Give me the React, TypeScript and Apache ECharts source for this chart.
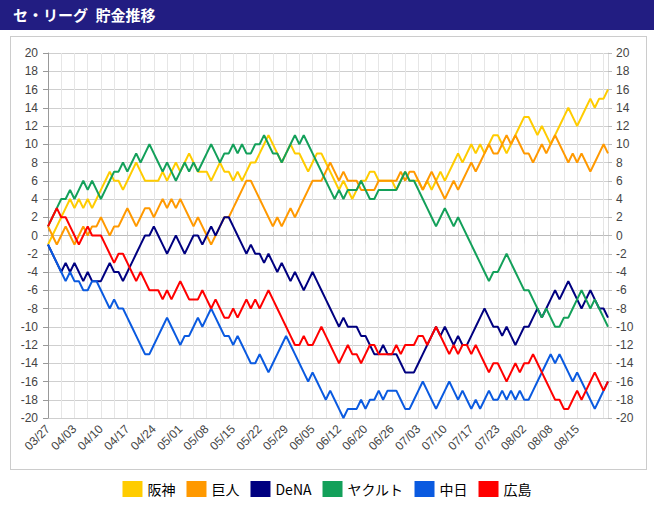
import { useEffect, useRef } from "react";
import * as echarts from "echarts";

// game dates (x categories)
const dates = [
  "03/27", "03/28", "03/29", "03/31", "04/01", "04/02",
  "04/03", "04/04", "04/05", "04/07", "04/08", "04/09",
  "04/10", "04/11", "04/12", "04/14", "04/15", "04/16",
  "04/17", "04/18", "04/19", "04/21", "04/22", "04/23",
  "04/24", "04/25", "04/26", "04/28", "04/29", "04/30",
  "05/01", "05/02", "05/03", "05/05", "05/06", "05/07",
  "05/08", "05/09", "05/10", "05/12", "05/13", "05/14",
  "05/15", "05/16", "05/17", "05/19", "05/20", "05/21",
  "05/22", "05/23", "05/24", "05/26", "05/27", "05/28",
  "05/29", "05/30", "05/31", "06/02", "06/03", "06/04",
  "06/05", "06/06", "06/07", "06/09", "06/10", "06/11",
  "06/12", "06/13", "06/14", "06/16", "06/17", "06/19",
  "06/20", "06/21", "06/22", "06/23", "06/24", "06/25",
  "06/26", "06/27", "06/28", "06/30", "07/01", "07/02",
  "07/03", "07/04", "07/05", "07/07", "07/08", "07/09",
  "07/10", "07/11", "07/12", "07/14", "07/15", "07/16",
  "07/17", "07/18", "07/19", "07/20", "07/21", "07/22",
  "07/23", "07/24", "07/28", "07/29", "07/30", "08/01",
  "08/02", "08/03", "08/04", "08/05", "08/06", "08/07",
  "08/08", "08/09", "08/11", "08/12", "08/13", "08/14",
  "08/15", "08/16", "08/18", "08/19", "08/20", "08/21", "08/22", "08/23",
];

// 貯金 per team
const hanshin = [
  -1, 0, 1, 2, 3, 4, 3, 4, 3, 4,
  3, 4, 5, 6, 7, 6, 6, 5, 6, 7,
  8, 7, 6, 6, 6, 6, 7, 6, 7, 8,
  7, 8, 9, 8, 7, 7, 7, 6, 7, 8,
  7, 7, 6, 7, 6, 7, 8, 8, 9, 10,
  11, 10, 9, 8, 9, 10, 9, 9, 8, 7,
  8, 9, 9, 8, 7, 6, 5, 6, 5, 4,
  5, 6, 6, 7, 7, 6, 6, 6, 6, 5,
  6, 7, 6, 6, 6, 5, 6, 5, 6, 7,
  6, 7, 8, 9, 8, 9, 10, 9, 10, 9,
  10, 11, 11, 10, 9, 10, 11, 12, 13, 13,
  12, 11, 12, 11, 10, 11, 12, 13, 14, 13,
  12, 13, 14, 15, 14, 15, 15, 16,
];
const giants = [
  1, 0, -1, 0, 1, 0, -1, 0, 1, 0,
  1, 1, 2, 1, 0, 1, 1, 2, 3, 2,
  1, 2, 3, 3, 2, 3, 4, 3, 4, 3,
  4, 3, 2, 1, 2, 1, 0, -1, 0, 1,
  2, 2, 3, 4, 5, 6, 6, 5, 4, 3,
  2, 1, 2, 1, 2, 3, 2, 3, 4, 5,
  6, 6, 6, 7, 8, 7, 6, 7, 6, 6,
  6, 5, 5, 5, 5, 6, 6, 6, 6, 6,
  7, 6, 7, 7, 6, 5, 6, 7, 6, 5,
  4, 5, 6, 5, 6, 7, 8, 7, 8, 9,
  10, 9, 9, 10, 11, 10, 11, 10, 9, 9,
  8, 9, 10, 9, 10, 11, 10, 9, 8, 9,
  8, 9, 8, 7, 8, 9, 10, 9,
];
const dena = [
  -1, -2, -3, -4, -3, -4, -3, -4, -5, -4,
  -5, -5, -5, -4, -3, -4, -4, -5, -4, -3,
  -2, -1, 0, 0, 1, 0, -1, -2, -1, 0,
  -1, -2, -1, 0, 0, -1, 0, 1, 0, 1,
  2, 2, 1, 0, -1, -2, -1, -2, -2, -3,
  -2, -3, -4, -3, -4, -5, -4, -5, -6, -5,
  -4, -5, -6, -7, -8, -9, -10, -9, -10, -10,
  -10, -11, -11, -12, -13, -13, -12, -13, -13, -13,
  -14, -15, -15, -15, -14, -13, -12, -11, -10, -11,
  -10, -11, -12, -11, -12, -12, -11, -10, -9, -8,
  -9, -10, -10, -11, -10, -11, -12, -11, -10, -10,
  -9, -8, -9, -8, -7, -6, -7, -6, -5, -6,
  -7, -8, -7, -6, -7, -8, -8, -9,
];
const yakult = [
  1, 2, 3, 4, 4, 5, 4, 5, 6, 5,
  6, 5, 4, 5, 6, 7, 7, 8, 7, 8,
  9, 8, 9, 10, 9, 8, 7, 8, 7, 6,
  7, 8, 7, 8, 7, 8, 9, 10, 9, 8,
  9, 9, 10, 9, 10, 9, 9, 10, 10, 11,
  10, 9, 9, 8, 9, 10, 11, 10, 11, 10,
  9, 8, 7, 6, 5, 4, 5, 4, 5, 5,
  5, 6, 5, 4, 4, 5, 5, 5, 5, 5,
  6, 7, 6, 6, 5, 4, 3, 2, 1, 2,
  3, 2, 1, 2, 1, 0, -1, -2, -3, -4,
  -5, -4, -4, -3, -2, -3, -4, -5, -6, -6,
  -7, -8, -9, -8, -9, -10, -10, -9, -9, -8,
  -7, -6, -7, -8, -7, -8, -9, -10,
];
const chunichi = [
  -1, -2, -3, -4, -5, -4, -5, -5, -6, -6,
  -5, -5, -6, -7, -8, -7, -8, -8, -9, -10,
  -11, -12, -13, -13, -12, -11, -10, -9, -10, -11,
  -12, -11, -11, -10, -9, -10, -9, -8, -9, -10,
  -11, -11, -12, -11, -12, -13, -14, -14, -13, -14,
  -15, -14, -13, -12, -11, -12, -13, -14, -15, -16,
  -15, -16, -17, -18, -17, -18, -19, -20, -19, -19,
  -19, -18, -19, -18, -18, -17, -18, -17, -17, -17,
  -18, -19, -19, -18, -17, -16, -17, -18, -19, -18,
  -17, -16, -17, -18, -17, -18, -19, -18, -19, -18,
  -17, -18, -18, -17, -18, -17, -18, -17, -18, -18,
  -17, -16, -15, -14, -13, -14, -13, -14, -15, -16,
  -15, -16, -17, -18, -19, -18, -17, -16,
];
const hiroshima = [
  1, 2, 3, 2, 2, 1, 0, -1, 0, 1,
  0, 0, 0, -1, -2, -3, -2, -2, -3, -4,
  -5, -4, -5, -6, -6, -6, -7, -6, -7, -6,
  -5, -6, -7, -7, -7, -6, -7, -8, -7, -8,
  -9, -9, -8, -9, -8, -7, -8, -7, -8, -7,
  -6, -7, -8, -9, -10, -11, -12, -12, -11, -12,
  -12, -11, -10, -11, -12, -13, -14, -13, -12, -13,
  -13, -14, -13, -12, -12, -13, -13, -13, -13, -12,
  -13, -12, -12, -12, -11, -11, -12, -11, -10, -11,
  -12, -13, -12, -13, -12, -12, -13, -12, -13, -14,
  -15, -14, -14, -15, -16, -15, -14, -15, -14, -14,
  -13, -14, -15, -16, -17, -18, -18, -19, -19, -18,
  -17, -18, -17, -16, -15, -16, -17, -16,
];

const teams = ["阪神", "巨人", "DeNA", "ヤクルト", "中日", "広島"];
const teamColors = ["#ffcc00", "#ff9900", "#000080", "#13a05a", "#0a5ae0", "#ff0000"];

const labelFont = "'Liberation Sans', Arial, sans-serif";
const jpFont = "'Noto Sans CJK JP', 'Noto Sans', sans-serif";

const App = () => {
  const chartRef = useRef<HTMLDivElement>(null);

  useEffect(() => {
    if (!chartRef.current) return;
    const chart = echarts.init(chartRef.current, null, { renderer: "svg" });

    const values = [hanshin, giants, dena, yakult, chunichi, hiroshima];
    const every3 = (i: number) => i % 3 === 0;
    // 21 horizontal lines, the 0 line is darker
    const hLineColors = Array.from({ length: 21 }, (_, k) => (k === 10 ? "#999999" : "#cfcfcf"));

    const option: echarts.EChartsOption = {
      animation: false,
      textStyle: { fontFamily: labelFont },
      grid: { left: 48, right: 46, top: 23, bottom: 99, containLabel: false },
      legend: {
        data: teams,
        left: "center",
        top: 446,
        icon: "rect",
        itemWidth: 20,
        itemHeight: 16,
        itemGap: 11,
        textStyle: { fontFamily: jpFont, fontSize: 14, color: "#000" },
      },
      xAxis: [
        {
          type: "category",
          data: dates,
          boundaryGap: false,
          axisLine: { lineStyle: { color: "#bbbbbb" } },
          axisTick: { interval: every3, length: 8, lineStyle: { color: "#dddddd" } },
          axisLabel: {
            interval: (i: number) => i % 6 === 0 && i <= 120,
            rotate: 45,
            margin: 9,
            fontSize: 12,
            color: "#444",
          },
          splitLine: { show: true, interval: every3, lineStyle: { color: "#e6e6e6" } },
        },
        {
          type: "category",
          data: dates,
          position: "top",
          boundaryGap: false,
          axisLine: { show: false },
          axisTick: { interval: every3, length: 4, lineStyle: { color: "#cccccc" } },
          axisLabel: { show: false },
        },
      ],
      yAxis: [
        {
          type: "value",
          min: -20,
          max: 20,
          interval: 2,
          axisLine: { show: true, lineStyle: { color: "#999999" } },
          axisTick: { show: true, length: 5, lineStyle: { color: "#999999" } },
          axisLabel: { fontSize: 12, color: "#444", margin: 10 },
          splitLine: { lineStyle: { color: hLineColors } },
        },
        {
          type: "value",
          min: -20,
          max: 20,
          interval: 2,
          position: "right",
          axisLine: { show: true, lineStyle: { color: "#dddddd" } },
          axisTick: { show: true, length: 4, lineStyle: { color: "#bbbbbb" } },
          axisLabel: { fontSize: 12, color: "#444", margin: 8 },
          splitLine: { show: false },
        },
      ],
      series: teams.map((name, k) => ({
        name,
        type: "line",
        data: values[k],
        showSymbol: false,
        symbol: "none",
        color: teamColors[k],
        lineStyle: { width: 2, color: teamColors[k] },
      })),
    };

    chart.setOption(option);

    return () => {
      chart.dispose();
    };
  }, []);

  return (
    <div
      style={{
        position: "fixed",
        left: 0,
        top: 0,
        width: 654,
        height: 517,
        background: "#ffffff",
        overflow: "hidden",
      }}
    >
      <div
        style={{
          height: 30,
          background: "#221d82",
          color: "#ffffff",
          fontFamily: jpFont,
          fontWeight: "bold",
          fontSize: 15,
          lineHeight: "30px",
          paddingLeft: 13,
          boxSizing: "border-box",
        }}
      >
        セ・リーグ{"\u2002"}貯金推移
      </div>
      {/* chart frame */}
      <div
        style={{
          position: "absolute",
          left: 10,
          top: 36,
          width: 635,
          height: 432,
          border: "1px solid #cccccc",
        }}
      />
      <div ref={chartRef} style={{ position: "absolute", left: 0, top: 30, width: 654, height: 487 }} />
    </div>
  );
};

export default App;
